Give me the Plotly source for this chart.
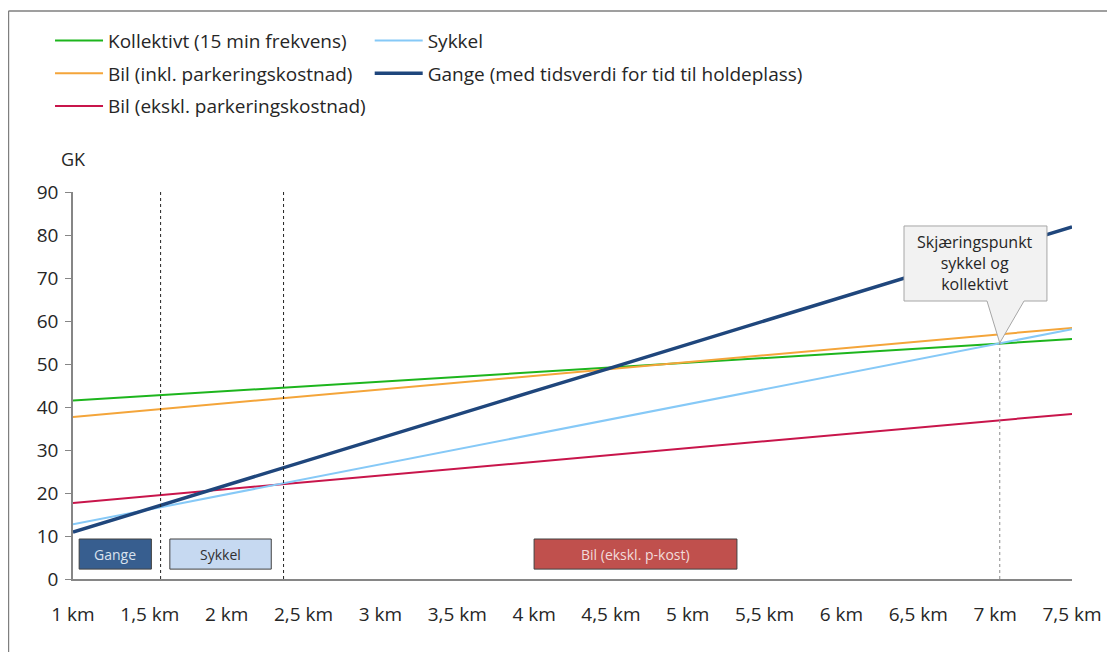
import plotly.graph_objects as go

# ---- data ----
km = [1.0, 1.5, 2.0, 2.5, 3.0, 3.5, 4.0, 4.5, 5.0, 5.5, 6.0, 6.5, 7.0, 7.5]
km_labels = ["1 km", "1,5 km", "2 km", "2,5 km", "3 km", "3,5 km", "4 km",
             "4,5 km", "5 km", "5,5 km", "6 km", "6,5 km", "7 km", "7,5 km"]
kollektivt = [41.5, 42.6, 43.7, 44.8, 45.9, 47.0, 48.1, 49.2, 50.3, 51.4, 52.5, 53.6, 54.7, 55.8]
bil_inkl = [37.7, 39.3, 40.9, 42.5, 44.1, 45.7, 47.3, 48.9, 50.4, 52.0, 53.6, 55.2, 56.8, 58.4]
bil_ekskl = [17.7, 19.3, 20.9, 22.5, 24.1, 25.7, 27.3, 28.9, 30.4, 32.0, 33.6, 35.2, 36.8, 38.4]
sykkel = [12.7, 16.2, 19.7, 23.2, 26.7, 30.2, 33.6, 37.1, 40.6, 44.1, 47.6, 51.1, 54.6, 58.1]
gange = [10.9, 16.4, 21.8, 27.3, 32.7, 38.2, 43.7, 49.1, 54.6, 60.0, 65.5, 71.0, 76.4, 81.9]
y_ticks = [0, 10, 20, 30, 40, 50, 60, 70, 80, 90]

# boundaries (km) for dashed lines and crossing point
cross_gange_sykkel = 1.57
cross_sykkel_bil = 2.37
cross_sykkel_koll = (7.03, 54.9)

FONT = "Open Sans"
TXT = "#262626"

fig = go.Figure()
series = [
    ("Kollektivt (15 min frekvens)", kollektivt, "#1DB51D", 2, "legend"),
    ("Bil (inkl. parkeringskostnad)", bil_inkl, "#F4A53A", 2, "legend"),
    ("Bil (ekskl. parkeringskostnad)", bil_ekskl, "#C8154B", 2, "legend"),
    ("Sykkel", sykkel, "#86C9F7", 2, "legend2"),
    ("Gange (med tidsverdi for tid til holdeplass)", gange, "#1F467C", 3.5, "legend2"),
]
for i, (name, vals, col, w, lg) in enumerate(series):
    fig.add_trace(go.Scatter(x=km, y=vals, mode="lines", name=name, legendgroup=f"g{i}",
                             line=dict(color=col, width=w), legend=lg))

shapes = []
# dashed vertical separators
for xv in (cross_gange_sykkel, cross_sykkel_bil):
    shapes.append(dict(type="line", xref="x", yref="y", x0=xv, x1=xv, y0=0, y1=90,
                       line=dict(color="#222222", width=1, dash="3px,3px")))
shapes.append(dict(type="line", xref="x", yref="y", x0=cross_sykkel_koll[0], x1=cross_sykkel_koll[0],
                   y0=0, y1=cross_sykkel_koll[1], line=dict(color="#8C8C8C", width=1, dash="3px,3px")))

# category boxes
boxes = [
    ("Gange", 1.04, 1.51, "#375E8F", "#D9E2EE"),
    ("Sykkel", 1.63, 2.29, "#C6D9F1", "#303030"),
    ("Bil (ekskl. p-kost)", 4.0, 5.32, "#C0504D", "#F2DCDB"),
]
annotations = []
for label, x0, x1, fc, tc in boxes:
    shapes.append(dict(type="rect", xref="x", yref="y", x0=x0, x1=x1, y0=2.3, y1=9.3,
                       fillcolor=fc, line=dict(color="#404040", width=1), layer="above"))
    annotations.append(dict(x=(x0 + x1) / 2, y=5.8, xref="x", yref="y", text=label,
                            showarrow=False, font=dict(family=FONT, size=14, color=tc)))

# callout
cx, cy = cross_sykkel_koll
path = (f"M 6.407,82.1 L 7.337,82.1 L 7.337,64.65 L 7.188,64.65 L {cx},{cy} "
        f"L 6.947,64.65 L 6.407,64.65 Z")
shapes.append(dict(type="path", xref="x", yref="y", path=path, fillcolor="#F2F2F2",
                   line=dict(color="#A6A6A6", width=1), layer="above"))
annotations.append(dict(x=6.872, y=73.4, xref="x", yref="y",
                        text="Skjæringspunkt<br>sykkel og<br>kollektivt", showarrow=False,
                        font=dict(family=FONT, size=16, color=TXT), align="center"))

# outer frame (top and left)
shapes.append(dict(type="line", xref="paper", yref="paper", x0=-0.0646, x1=1.06, y0=1.468, y1=1.468,
                   line=dict(color="#7F7F7F", width=1.5)))
shapes.append(dict(type="line", xref="paper", yref="paper", x0=-0.0646, x1=-0.0646, y0=1.468, y1=-0.25,
                   line=dict(color="#7F7F7F", width=1.5)))

annotations.append(dict(x=0.0, y=1.085, xref="paper", yref="paper", text="GK", showarrow=False,
                        font=dict(family=FONT, size=18, color=TXT), xanchor="center", yanchor="middle"))

# the page body has an 8px margin; compensate so the plot area lands where the reference has it
fig.update_layout(
    width=1107, height=644,
    margin=dict(l=65, r=43, t=184, b=73, autoexpand=False),
    plot_bgcolor="white", paper_bgcolor="white",
    font=dict(family=FONT, size=19, color=TXT),
    shapes=shapes, annotations=annotations,
    showlegend=True,
    legend=dict(x=-0.023, y=1.440, xanchor="left", yanchor="top", orientation="v",
                bgcolor="rgba(0,0,0,0)", font=dict(family=FONT, size=19, color=TXT),
                tracegroupgap=5, itemwidth=48),
    legend2=dict(x=0.297, y=1.440, xanchor="left", yanchor="top", orientation="v",
                 bgcolor="rgba(0,0,0,0)", font=dict(family=FONT, size=19, color=TXT),
                 tracegroupgap=5, itemwidth=48),
    xaxis=dict(range=[1, 7.5], tickmode="array", tickvals=km, ticktext=km_labels,
               showgrid=False, zeroline=False, showline=True, linecolor="#868686", linewidth=1.5,
               ticks="", ticklabelstandoff=17, tickfont=dict(family=FONT, size=19, color=TXT)),
    yaxis=dict(range=[0, 90], tickmode="array", tickvals=y_ticks, showgrid=False, zeroline=False,
               showline=True, linecolor="#868686", linewidth=1.5, ticks="outside", ticklen=6,
               tickcolor="#868686", ticklabelstandoff=3,
               tickfont=dict(family=FONT, size=19, color=TXT)),
)

fig.write_html("out.html")
